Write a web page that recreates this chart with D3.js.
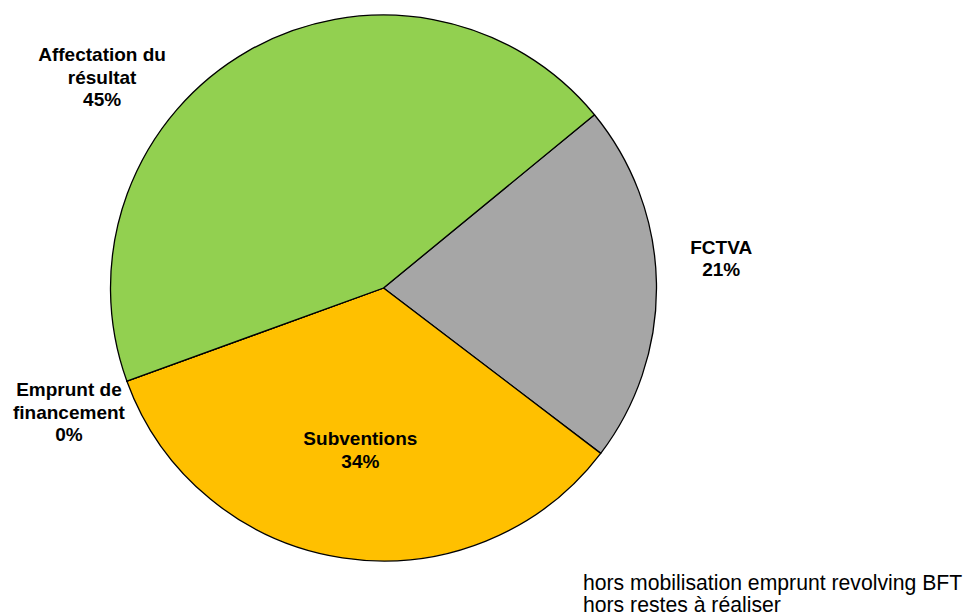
<!DOCTYPE html>
<html>
<head>
<meta charset="utf-8">
<script src="https://cdn.jsdelivr.net/npm/d3@7"></script>
<style>
  body { margin: 0; background: #fff; }
  svg { display: block; font-family: "Liberation Sans", Arial, sans-serif; }
</style>
</head>
<body>
<svg width="968" height="615"></svg>
<script>
// Data (shares in %)
const categories = ['FCTVA', 'Subventions', 'Emprunt de financement', 'Affectation du résultat'];
const values = [21.3, 34.1, 0, 44.6];
const colors = ['#A6A6A6', '#FFC000', '#92D050', '#92D050'];
const labelLines = [['FCTVA'], ['Subventions'], ['Emprunt de', 'financement'], ['Affectation du', 'résultat']];
const footnotes = ['hors mobilisation emprunt revolving BFT', 'hors restes à réaliser'];

// label placement (radius from center, angle shift in degrees from the slice middle)
const labelPlace = [
  { r: 339, shift: -4 },
  { r: 163, shift: -0.5 },
  { r: 338, shift: -1.5 },
  { r: 352, shift: -23.4 }
];

const svg = d3.select('svg');
const cx = 383.5, cy = 288, radius = 273;
const startDeg = 50.6;

const pie = d3.pie()
  .sort(null)
  .value(d => d)
  .startAngle(startDeg * Math.PI / 180)
  .endAngle((startDeg + 360) * Math.PI / 180);

const arcs = pie(values);
const arc = d3.arc().innerRadius(0).outerRadius(radius);

const g = svg.append('g').attr('transform', `translate(${cx},${cy})`);

g.selectAll('path')
  .data(arcs)
  .enter()
  .append('path')
  .attr('d', arc)
  .attr('fill', (d, i) => colors[i])
  .attr('stroke', '#000')
  .attr('stroke-width', 1.3)
  .attr('stroke-linejoin', 'round');

// labels
const fmt = d3.format('.0f');
const lineH = 22.5;
arcs.forEach((d, i) => {
  const mid = (d.startAngle + d.endAngle) / 2 + labelPlace[i].shift * Math.PI / 180;
  const x = Math.sin(mid) * labelPlace[i].r;
  const y = -Math.cos(mid) * labelPlace[i].r;
  const lines = labelLines[i].concat([fmt(values[i]) + '%']);
  const t = g.append('text')
    .attr('text-anchor', 'middle')
    .attr('font-size', 19)
    .attr('font-weight', 'bold')
    .attr('fill', '#000');
  lines.forEach((s, k) => {
    t.append('tspan')
      .attr('x', x)
      .attr('y', y + (k - (lines.length - 1) / 2) * lineH + 7)
      .text(s);
  });
});

// footnotes
const foot = svg.append('text')
  .attr('font-size', 21.2)
  .attr('fill', '#000');
footnotes.forEach((s, k) => {
  foot.append('tspan')
    .attr('x', 583)
    .attr('y', 590 + k * 21.5)
    .text(s);
});
</script>
</body>
</html>
